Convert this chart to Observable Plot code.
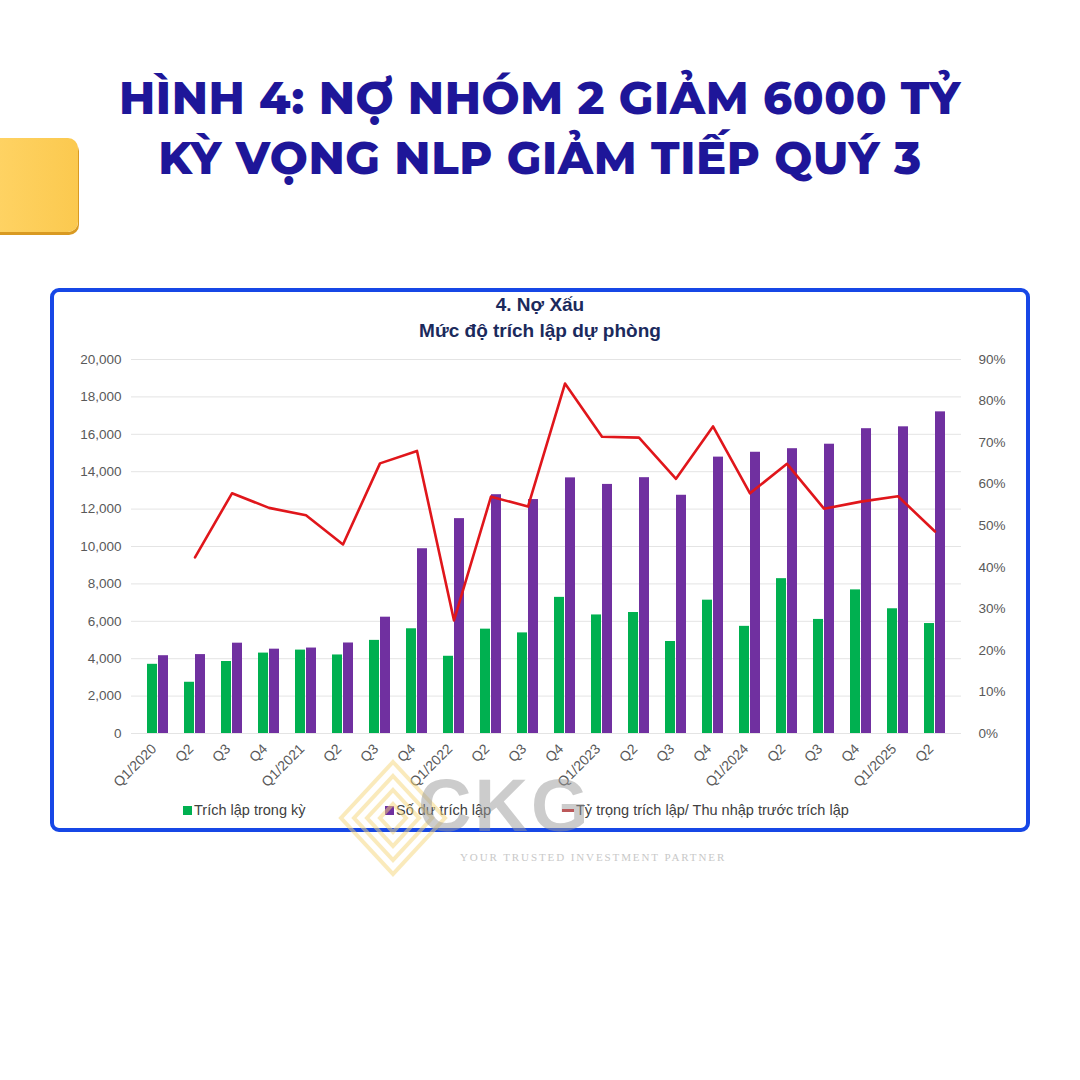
<!DOCTYPE html>
<html>
<head>
<meta charset="utf-8">
<script src="https://cdn.jsdelivr.net/npm/d3@7"></script>
<script src="https://cdn.jsdelivr.net/npm/@observablehq/plot@0.6"></script>
<style>
  html, body { margin:0; padding:0; background:#fff; }
  #page { position:relative; width:1080px; height:1080px; overflow:hidden; background:#fff; font-family:"Liberation Sans", Arial, sans-serif; }
  .title { position:absolute; left:0; width:1080px; text-align:center; font-family:"Montserrat","Inter","Open Sans",sans-serif; font-weight:800; color:#1e1699; font-size:45px; letter-spacing:0.6px; line-height:1; }
  #tab { position:absolute; left:-14px; top:138px; width:92px; height:94px; border-radius:10px; background:linear-gradient(90deg,#ffd466,#fbc94f); box-shadow: 1px 3px 0 #d99a22; }
  #box { position:absolute; left:50px; top:288px; width:972px; height:536px; border:4px solid #1747e6; border-radius:9px; }
  .ctitle { position:absolute; left:0; width:1080px; text-align:center; font-weight:bold; color:#1b2a5c; font-size:19px; font-family:"Liberation Sans", Arial, sans-serif; }
  #chart { position:absolute; left:50px; top:345px; }
  .leg { position:absolute; top:802px; font-size:14.5px; color:#404040; font-family:"Liberation Sans", Arial, sans-serif; display:flex; align-items:center; }
  .sw { display:inline-block; width:9px; height:9px; margin-right:2px; }
  .ln { display:inline-block; width:12px; height:3px; background:#e0161b; margin-right:2px; }
  #wm { position:absolute; left:0; top:0; pointer-events:none; }
</style>
</head>
<body>
<div id="page">
  <div id="tab"></div>
  <div class="title" style="top:75px">HÌNH 4: NỢ NHÓM 2 GIẢM 6000 TỶ</div>
  <div class="title" style="top:135px">KỲ VỌNG NLP GIẢM TIẾP QUÝ 3</div>
  <div id="box"></div>
  <div class="ctitle" style="top:294px">4. Nợ Xấu</div>
  <div class="ctitle" style="top:320px">Mức độ trích lập dự phòng</div>
  <div id="chart"></div>
  <div class="leg" style="left:183px"><span class="sw" style="background:#00b050"></span>Trích lập trong kỳ</div>
  <div class="leg" style="left:385px"><span class="sw" style="background:#7030a0"></span>Số dư trích lập</div>
  <div class="leg" style="left:562px"><span class="ln"></span>Tỷ trọng trích lập/ Thu nhập trước trích lập</div>
  <svg id="wm" width="1080" height="1080">
    <g fill="none" stroke="#f6d77a" stroke-width="4" opacity="0.5">
      <path d="M393 762 L445 818 L393 874 L341 818 Z"/>
      <path d="M393 776 L432 818 L393 860 L354 818 Z"/>
      <path d="M393 790 L419 818 L393 846 L367 818 Z"/>
      <path d="M393 804 L406 818 L393 832 L380 818 Z"/>
    </g>
    <text x="418" y="831" font-family="Liberation Sans, Arial" font-weight="bold" font-size="74" fill="#9a9a9a" opacity="0.5" letter-spacing="3">CKG</text>
    <text x="460" y="861" font-family="Liberation Serif, serif" font-size="11" fill="#c8c8c8" letter-spacing="1.9">YOUR TRUSTED INVESTMENT PARTNER</text>
  </svg>
</div>
<script>
const quarters = ["Q1/2020","Q2","Q3","Q4","Q1/2021","Q2","Q3","Q4","Q1/2022","Q2","Q3","Q4","Q1/2023","Q2","Q3","Q4","Q1/2024","Q2","Q3","Q4","Q1/2025","Q2"];
const trichLapTrongKy = [3700,2740,3850,4300,4460,4200,4980,5600,4130,5580,5380,7280,6340,6470,4920,7130,5730,8280,6100,7680,6670,5880];
const soDuTrichLap = [4160,4220,4830,4510,4570,4840,6220,9880,11490,12770,12510,13670,13320,13680,12740,14780,15040,15230,15470,16300,16400,17200];
const tyTrongTrichLap = [null,42.4,57.8,54.3,52.5,45.5,65.0,68.0,27.2,57.0,54.6,84.2,71.4,71.2,61.3,73.9,57.8,64.9,54.1,55.8,57.1,48.6];
const leftTicks = [0,2000,4000,6000,8000,10000,12000,14000,16000,18000,20000];
const rightTicks = [0,10,20,30,40,50,60,70,80,90];

const yMax = 20000, pMax = 90;
const toY = p => p * yMax / pMax;
const idx = quarters.map((_, i) => i);
const rows = idx.map(i => ({i, g: trichLapTrongKy[i], p: soDuTrichLap[i], r: tyTrongTrichLap[i] == null ? NaN : toY(tyTrongTrichLap[i])}));

const chart = Plot.plot({
  width: 975,
  height: 448,
  marginLeft: 81,
  marginRight: 64,
  marginTop: 14,
  marginBottom: 60,
  style: {fontFamily: "Liberation Sans, Arial, sans-serif", fontSize: "13.5px", color: "#595959", background: "transparent"},
  x: {type: "band", domain: idx, padding: 0.42, label: null},
  y: {domain: [0, yMax], label: null},
  marks: [
    Plot.gridY(leftTicks, {stroke: "#e4e4e4", strokeOpacity: 1}),
    Plot.barY(rows, {x: "i", y: "g", fill: "#00b050", insetRight: 11}),
    Plot.barY(rows, {x: "i", y: "p", fill: "#7030a0", insetLeft: 11}),
    Plot.line(rows, {x: "i", y: "r", stroke: "#e0161b", strokeWidth: 2.6, curve: "linear"}),
    Plot.axisY(leftTicks, {anchor: "left", tickSize: 0, tickPadding: 10, tickFormat: d3.format(","), label: null, fontSize: 13.5}),
    Plot.axisY(rightTicks.map(toY), {anchor: "right", tickSize: 0, tickPadding: 17, tickFormat: v => Math.round(v * pMax / yMax) + "%", label: null, fontSize: 13.5}),
    Plot.axisX(idx, {tickSize: 0, tickPadding: 13, dx: -4, tickRotate: -45, tickFormat: i => quarters[i], label: null, fontSize: 14})
  ]
});
document.getElementById("chart").appendChild(chart);
</script>
</body>
</html>
